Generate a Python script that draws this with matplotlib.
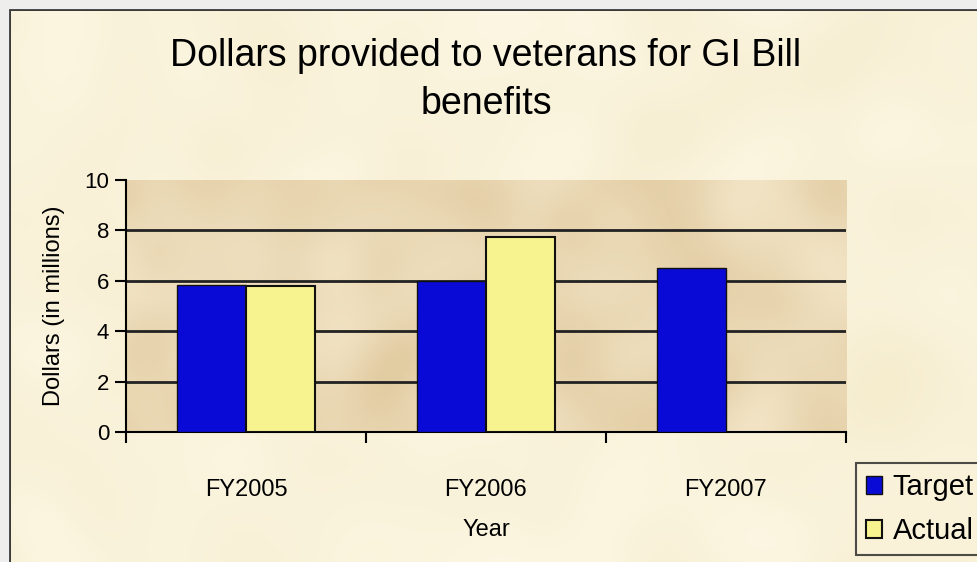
import numpy as np
import matplotlib.pyplot as plt
from matplotlib.patches import Rectangle
from matplotlib.colors import LinearSegmentedColormap

# GI Bill benefit dollars, target vs actual (millions)
years = ['FY2005', 'FY2006', 'FY2007']
target = [5.85, 6.0, 6.5]
actual = [5.8, 7.75, None]

plt.rcParams['font.family'] = ['Liberation Sans', 'DejaVu Sans']


def parchment(h, w, seed):
    # smoothed noise for a mottled paper look
    rng = np.random.default_rng(seed)
    n = rng.normal(size=(h, w))
    f = np.fft.fft2(n)
    ky = np.fft.fftfreq(h)[:, None]
    kx = np.fft.fftfreq(w)[None, :]
    f *= np.exp(-(kx**2 + ky**2) * 2500)
    t = np.real(np.fft.ifft2(f))
    return (t - t.min()) / (t.max() - t.min())


fig = plt.figure(figsize=(9.77, 5.62), dpi=100)
fig.patch.set_facecolor('#EEEEEC')

# cream chart area with dark frame
fig.patches.append(Rectangle((10/977, -0.05), 1.0, 1 - 10/562 + 0.05,
                             transform=fig.transFigure, facecolor='#FAF2D9',
                             edgecolor='#3A3A3A', linewidth=2, zorder=-5))
bg = fig.add_axes([11/977, 0, 1, 1 - 11/562], zorder=-4)
bg.imshow(parchment(200, 350, 1), cmap=LinearSegmentedColormap.from_list('c', ['#F6EDCF', '#FCF6E2']),
          aspect='auto', interpolation='bilinear')
bg.axis('off')

ax = fig.add_axes([126/977, 1 - 432/562, 720/977, 252/562])
ax.set_facecolor('#EBD9B6')
ax.imshow(parchment(120, 340, 7), cmap=LinearSegmentedColormap.from_list('p', ['#E2CCA2', '#F2E4C6']),
          extent=(-0.5, 2.5, 0, 10), aspect='auto', interpolation='bilinear', zorder=0)

x = np.arange(len(years))
w = 1 / 3.5
ax.bar(x - w/2, target, w, color='#0A0AD6', edgecolor='#101010', linewidth=1, label='Target', zorder=3)
act_x = [xi + w/2 for xi, v in zip(x, actual) if v is not None]
act_v = [v for v in actual if v is not None]
ax.bar(act_x, act_v, w, color='#F7F38E', edgecolor='#101010', linewidth=1.5, label='Actual', zorder=3)

ax.set_xlim(-0.5, 2.5)
ax.set_ylim(0, 10)
ax.set_yticks([0, 2, 4, 6, 8, 10])
for yv in [2, 4, 6, 8]:
    ax.axhline(yv, color='#222222', linewidth=2, zorder=1)
for s in ['top', 'right']:
    ax.spines[s].set_visible(False)
ax.spines['left'].set_linewidth(1.5)
ax.spines['bottom'].set_linewidth(1.5)

ax.set_xticks([-0.5, 0.5, 1.5, 2.5])
ax.set_xticklabels([])
ax.set_xticks(x, minor=True)
ax.set_xticklabels(years, minor=True)
ax.tick_params(axis='x', which='major', length=8, width=1.5, direction='out')
ax.tick_params(axis='x', which='minor', length=0, pad=34, labelsize=17)
ax.tick_params(axis='y', length=8, width=1.5, direction='out', labelsize=16, pad=4)

ax.set_xlabel('Year', fontsize=17, labelpad=13)
ax.set_ylabel('Dollars (in millions)', fontsize=17, labelpad=14)

fig.text(486/977, 1 - 80/562, 'Dollars provided to veterans for GI Bill\nbenefits',
         ha='center', va='center', fontsize=27, linespacing=1.4)

leg = fig.legend(loc='upper left', bbox_to_anchor=(856/977, 1 - 463/562),
                 fontsize=21, frameon=True, fancybox=False, edgecolor='#222222',
                 handlelength=0.55, handleheight=0.55, handletextpad=0.35,
                 borderpad=0.35, labelspacing=0.55, borderaxespad=0)
leg.get_frame().set_facecolor('#FAF2D9')
leg.get_frame().set_linewidth(1.5)

fig.savefig('out.png', dpi=100)
